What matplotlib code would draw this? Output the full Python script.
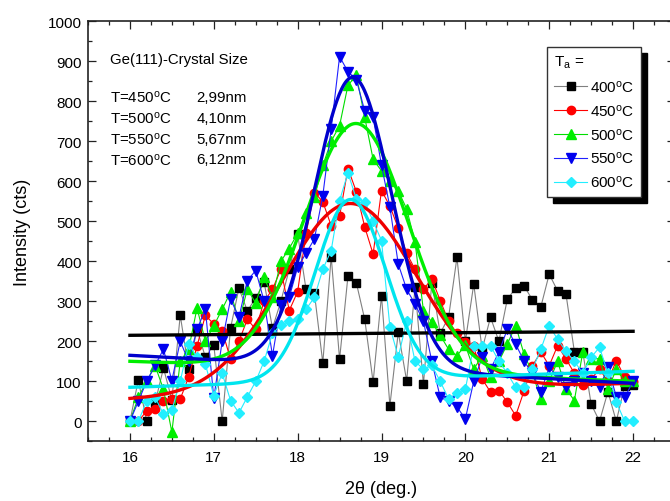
import numpy as np
import matplotlib
matplotlib.use("Agg")
import matplotlib.pyplot as plt
from matplotlib.patches import Rectangle
from matplotlib.transforms import IdentityTransform

plt.rcParams['font.family'] = ['Liberation Sans', 'DejaVu Sans']
plt.rcParams['mathtext.fontset'] = 'custom'
plt.rcParams['mathtext.rm'] = 'Liberation Sans'
plt.rcParams['mathtext.it'] = 'Liberation Sans:italic'

# ---------------- data ----------------
two_theta = np.round(np.arange(16.0, 22.0001, 0.1), 1)

i400 = [0, 103, 0, 46, 133, 54, 265, 130, 230, 160,
        191, 0, 233, 333, 276, 308, 348, 233, 300, 380,
        468, 330, 320, 146, 412, 155, 363, 346, 255, 98,
        314, 39, 223, 101, 335, 93, 347, 220, 260, 410,
        200, 343, 180, 260, 200, 305, 333, 338, 304, 286,
        368, 326, 318, 174, 174, 43, 0, 74, 0, 89, 90]

i450 = [0, 0, 26, 30, 52, 57, 56, 110, 188, 265,
        243, 227, 155, 200, 255, 230, 300, 330, 380, 277,
        324, 470, 572, 549, 489, 513, 632, 574, 486, 418,
        577, 538, 483, 420, 380, 330, 356, 302, 250, 220,
        199, 189, 106, 73, 77, 48, 14, 76, 139, 173,
        139, 189, 156, 120, 90, 106, 130, 100, 152, 110, 100]

i500 = [0, 60, 100, 139, 80, -27, 150, 180, 283, 200,
        239, 280, 323, 250, 330, 296, 360, 310, 400, 432,
        470, 520, 560, 640, 700, 739, 840, 865, 760, 655,
        626, 600, 576, 531, 448, 277, 248, 215, 180, 164,
        190, 130, 164, 110, 150, 193, 239, 168, 120, 56,
        100, 150, 81, 52, 173, 155, 157, 80, 130, 100, 100]

i550 = [0, 50, 100, 140, 180, 102, 200, 150, 230, 280,
        58, 200, 305, 260, 352, 377, 300, 164, 290, 310,
        385, 420, 456, 564, 731, 912, 874, 854, 776, 760,
        640, 536, 393, 330, 293, 250, 150, 60, 50, 36,
        6, 100, 160, 130, 173, 230, 193, 150, 120, 74,
        135, 110, 85, 100, 120, 100, 85, 135, 62, 60, 100]

i600 = [0, 0, 50, 60, 18, 28, 100, 193, 160, 143,
        64, 120, 52, 21, 61, 100, 150, 220, 240, 250,
        255, 280, 310, 380, 427, 552, 621, 556, 549, 500,
        452, 236, 161, 250, 150, 130, 140, 100, 56, 70,
        80, 189, 189, 189, 150, 120, 85, 85, 130, 180,
        239, 205, 175, 150, 120, 160, 185, 120, 48, 0, 0]

labels = ['400$^{\\mathrm{o}}$C', '450$^{\\mathrm{o}}$C', '500$^{\\mathrm{o}}$C',
          '550$^{\\mathrm{o}}$C', '600$^{\\mathrm{o}}$C']

# fit parameters: center, amplitude, sigma, baseline(16), baseline(22)
fit_400_line = (215, 225)
fit_450 = (18.62, 472, 0.80, 55, 95)
fit_500 = (18.70, 617, 0.62, 150, 100)
fit_550 = (18.66, 726, 0.46, 165, 95)
fit_600 = (18.63, 452, 0.42, 85, 125)

crystal_T = ['T=450$^{\\mathrm{o}}$C', 'T=500$^{\\mathrm{o}}$C', 'T=550$^{\\mathrm{o}}$C', 'T=600$^{\\mathrm{o}}$C']
crystal_size = ['2,99nm', '4,10nm', '5,67nm', '6,12nm']

# ---------------- figure ----------------
W, H = 670, 502
fig = plt.figure(figsize=(W / 100, H / 100), dpi=100)
ax = fig.add_axes([88 / W, (H - 442.3) / H, 587 / W, 420 / H])

series = [
    (i400, 's', '#000000', '#808080', 5.5),
    (i450, 'o', '#ff0000', '#ff0000', 6),
    (i500, '^', '#00ee00', '#00dd00', 6.5),
    (i550, 'v', '#0000ee', '#2020ff', 6.5),
    (i600, 'D', '#22eeff', '#22eeff', 5),
]
handles = []
for (vals, mk, mcol, lcol, ms), lab in zip(series, labels):
    h, = ax.plot(two_theta, vals, '-', color=lcol, lw=0.8, marker=mk, ms=ms,
                 mfc=mcol, mec=mcol, label=lab)
    handles.append(h)

xf = np.linspace(16, 22, 400)
ax.plot([16, 22], list(fit_400_line), color='k', lw=2.4)
for (c, a, s, b0, b1), col in zip([fit_450, fit_500, fit_550, fit_600],
                                   ['#ee0000', '#00ee00', '#0000cc', '#00e5ee']):
    base = b0 + (b1 - b0) * (xf - 16) / 6
    ax.plot(xf, base + a * np.exp(-(xf - c) ** 2 / (2 * s ** 2)), color=col, lw=2.4)

ax.set_xlim(15.5, 22.5)
ax.set_ylim(-50, 1000)
ax.set_xticks(np.arange(16, 23, 1))
ax.set_xticks(np.arange(15.5, 22.51, 0.25), minor=True)
ax.set_yticks(np.arange(0, 1001, 100))
ax.set_yticks(np.arange(-50, 1001, 50), minor=True)
ax.tick_params(which='both', direction='in', top=True, right=True, width=0.9,
               labelsize=11, color='#222222')
ax.tick_params(which='major', length=6)
ax.tick_params(which='minor', length=3)
ax.tick_params(axis='y', pad=4.5)
ax.tick_params(axis='x', pad=6)
for sp in ax.spines.values():
    sp.set_linewidth(1.2)
    sp.set_color('#222222')

ax.set_xlabel('2θ (deg.)', fontsize=13, labelpad=12)
ax.set_ylabel('Intensity (cts)', fontsize=13, labelpad=12)

# annotation text
ax.text(15.76, 905, 'Ge(111)-Crystal Size', fontsize=10.8, va='center')
for k, (tt, ss) in enumerate(zip(crystal_T, crystal_size)):
    yv = 811 - k * 52
    ax.text(15.76, yv, tt, fontsize=10.8, va='center')
    ax.text(16.79, yv, ss, fontsize=10.8, va='center')

leg = ax.legend(handles=handles, loc='upper left', bbox_to_anchor=(547 / W, (H - 48) / H),
                bbox_transform=fig.transFigure, title='T$_{\\mathrm{a}}$ =', alignment='left',
                fontsize=11, title_fontsize=11, frameon=True, fancybox=False,
                edgecolor='#333333', framealpha=1, borderpad=0.45, labelspacing=0.52,
                handlelength=2.2, handletextpad=0.15, borderaxespad=0, numpoints=1)
leg.get_frame().set_linewidth(1.0)
leg.set_zorder(10)

fig.canvas.draw()
bb = leg.get_window_extent()
off = 6
shadow = Rectangle((bb.x0 + off, bb.y0 - off), bb.width, bb.height,
                   facecolor='k', edgecolor='k', zorder=9, clip_on=False)
shadow.set_transform(IdentityTransform())
ax.add_artist(shadow)

fig.savefig('out.png', dpi=100)
